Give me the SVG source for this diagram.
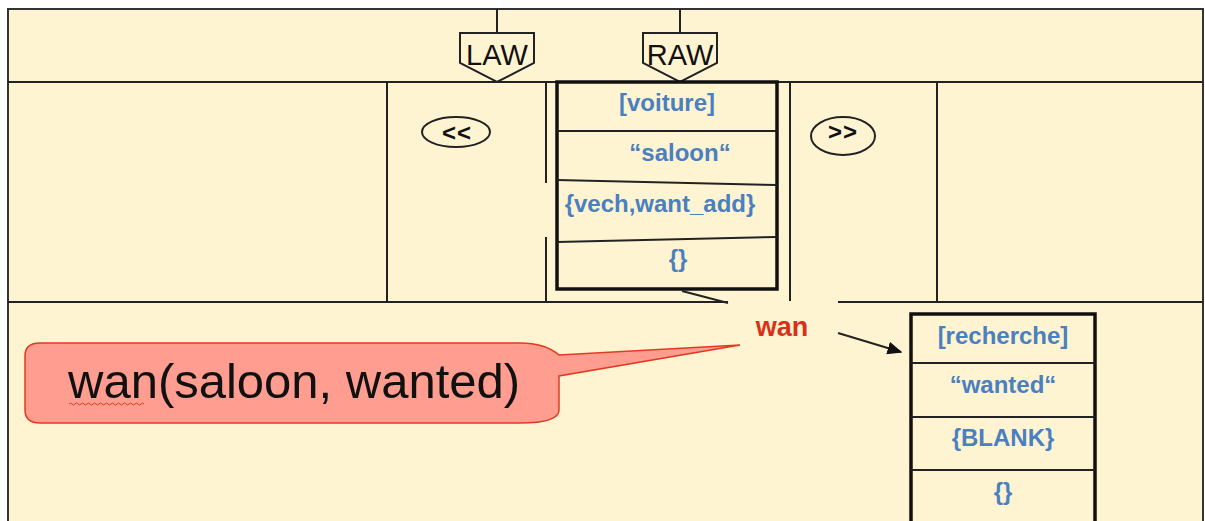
<svg xmlns="http://www.w3.org/2000/svg" width="1205" height="521" viewBox="0 0 1205 521">
<defs>
<style>
.ln{stroke:#222;stroke-width:2;fill:none}
.thick{stroke:#111;stroke-width:3.5;fill:none}
.bt{font-family:"Liberation Sans",Arial,sans-serif;font-weight:bold;font-size:24px;fill:#4a80bf;text-anchor:middle}
.lab{font-family:"Liberation Sans",Arial,sans-serif;font-size:29px;fill:#111;text-anchor:middle}
.nav{font-family:"Liberation Sans",Arial,sans-serif;font-weight:bold;font-size:24px;fill:#111;text-anchor:middle;letter-spacing:1px}
</style>
<marker id="ah" viewBox="0 0 10 10" refX="9" refY="5" markerWidth="15" markerHeight="13" orient="auto" markerUnits="userSpaceOnUse" preserveAspectRatio="none">
<path d="M0,0 L10,5 L0,10 z" fill="#111"/>
</marker>
</defs>
<rect x="0" y="0" width="1205" height="521" fill="#ffffff"/>
<rect x="8" y="9" width="1195" height="520" fill="#fff4d2" stroke="#333" stroke-width="2"/>
<g id="grid">
<line class="ln" x1="8" y1="82" x2="1203" y2="82"/>
<line class="ln" x1="387" y1="82" x2="387" y2="302"/>
<line class="ln" x1="546" y1="82" x2="546" y2="183"/>
<line class="ln" x1="546" y1="237" x2="546" y2="302"/>
<line class="ln" x1="790" y1="82" x2="790" y2="301"/>
<line class="ln" x1="937" y1="82" x2="937" y2="302"/>
<line class="ln" x1="8" y1="302" x2="728" y2="302"/>
<line class="ln" x1="838" y1="302" x2="1203" y2="302"/>
</g>
<g id="law">
<line class="ln" x1="497" y1="9" x2="497" y2="33"/>
<path class="ln" d="M460,33 H534 V63 L497,82 L460,63 Z"/>
<text class="lab" x="497" y="65">LAW</text>
</g>
<g id="raw">
<line class="ln" x1="680" y1="9" x2="680" y2="33"/>
<path class="ln" d="M643,33 H717 V63 L680,82 L643,63 Z"/>
<text class="lab" x="680" y="65">RAW</text>
</g>
<g id="prev">
<ellipse class="ln" cx="456" cy="132" rx="34" ry="15" stroke-width="1.5"/>
<text class="nav" x="457" y="141">&lt;&lt;</text>
</g>
<g id="next">
<ellipse class="ln" cx="843" cy="136" rx="32" ry="19" stroke-width="1.5"/>
<text class="nav" x="843" y="140">&gt;&gt;</text>
</g>
<g id="box1">
<rect class="thick" x="557" y="82" width="220" height="207"/>
<line class="ln" x1="557" y1="131" x2="777" y2="131"/>
<line class="ln" x1="557" y1="180" x2="777" y2="185"/>
<line class="ln" x1="557" y1="242" x2="777" y2="237"/>
<text class="bt" x="667" y="111">[voiture]</text>
<text class="bt" x="680" y="161">“saloon“</text>
<text class="bt" x="660" y="212">{vech,want_add}</text>
<text class="bt" x="678" y="267">{}</text>
</g>
<g id="box2">
<rect class="thick" x="911" y="314" width="184" height="220"/>
<line class="ln" x1="911" y1="363" x2="1095" y2="363"/>
<line class="ln" x1="911" y1="417" x2="1095" y2="417"/>
<line class="ln" x1="911" y1="470" x2="1095" y2="470"/>
<text class="bt" x="1003" y="344">[recherche]</text>
<text class="bt" x="1003" y="393">“wanted“</text>
<text class="bt" x="1003" y="446">{BLANK}</text>
<text class="bt" x="1003" y="500">{}</text>
</g>
<g id="callout">
<path d="M40,343 H520 Q545,343 559,355 L740,345 L559,376 V410 Q559,423 520,423 H40 Q25,423 25,410 V356 Q25,343 40,343 Z" fill="#ff9e90" stroke="#e03a22" stroke-width="1.5"/>
<text x="68" y="398" font-family="'Liberation Sans',Arial,sans-serif" font-size="49" fill="#111">wan(saloon, wanted)</text>
<path d="M69,404 q1.5,-2 3,0 t3,0 t3,0 t3,0 t3,0 t3,0 t3,0 t3,0 t3,0 t3,0 t3,0 t3,0 t3,0 t3,0 t3,0 t3,0 t3,0 t3,0 t3,0 t3,0 t3,0 t3,0 t3,0 t3,0 t3,0" fill="none" stroke="#e03a22" stroke-width="1"/>
</g>
<g id="connectors">
<line class="ln" x1="682" y1="291" x2="728" y2="303" stroke-width="1.5"/>
<line class="ln" x1="838" y1="333" x2="901" y2="352" stroke-width="1.5" marker-end="url(#ah)"/>
<text x="782" y="336" font-family="'Liberation Sans',Arial,sans-serif" font-weight="bold" font-size="27" fill="#d8301a" text-anchor="middle">wan</text>
</g>
</svg>
